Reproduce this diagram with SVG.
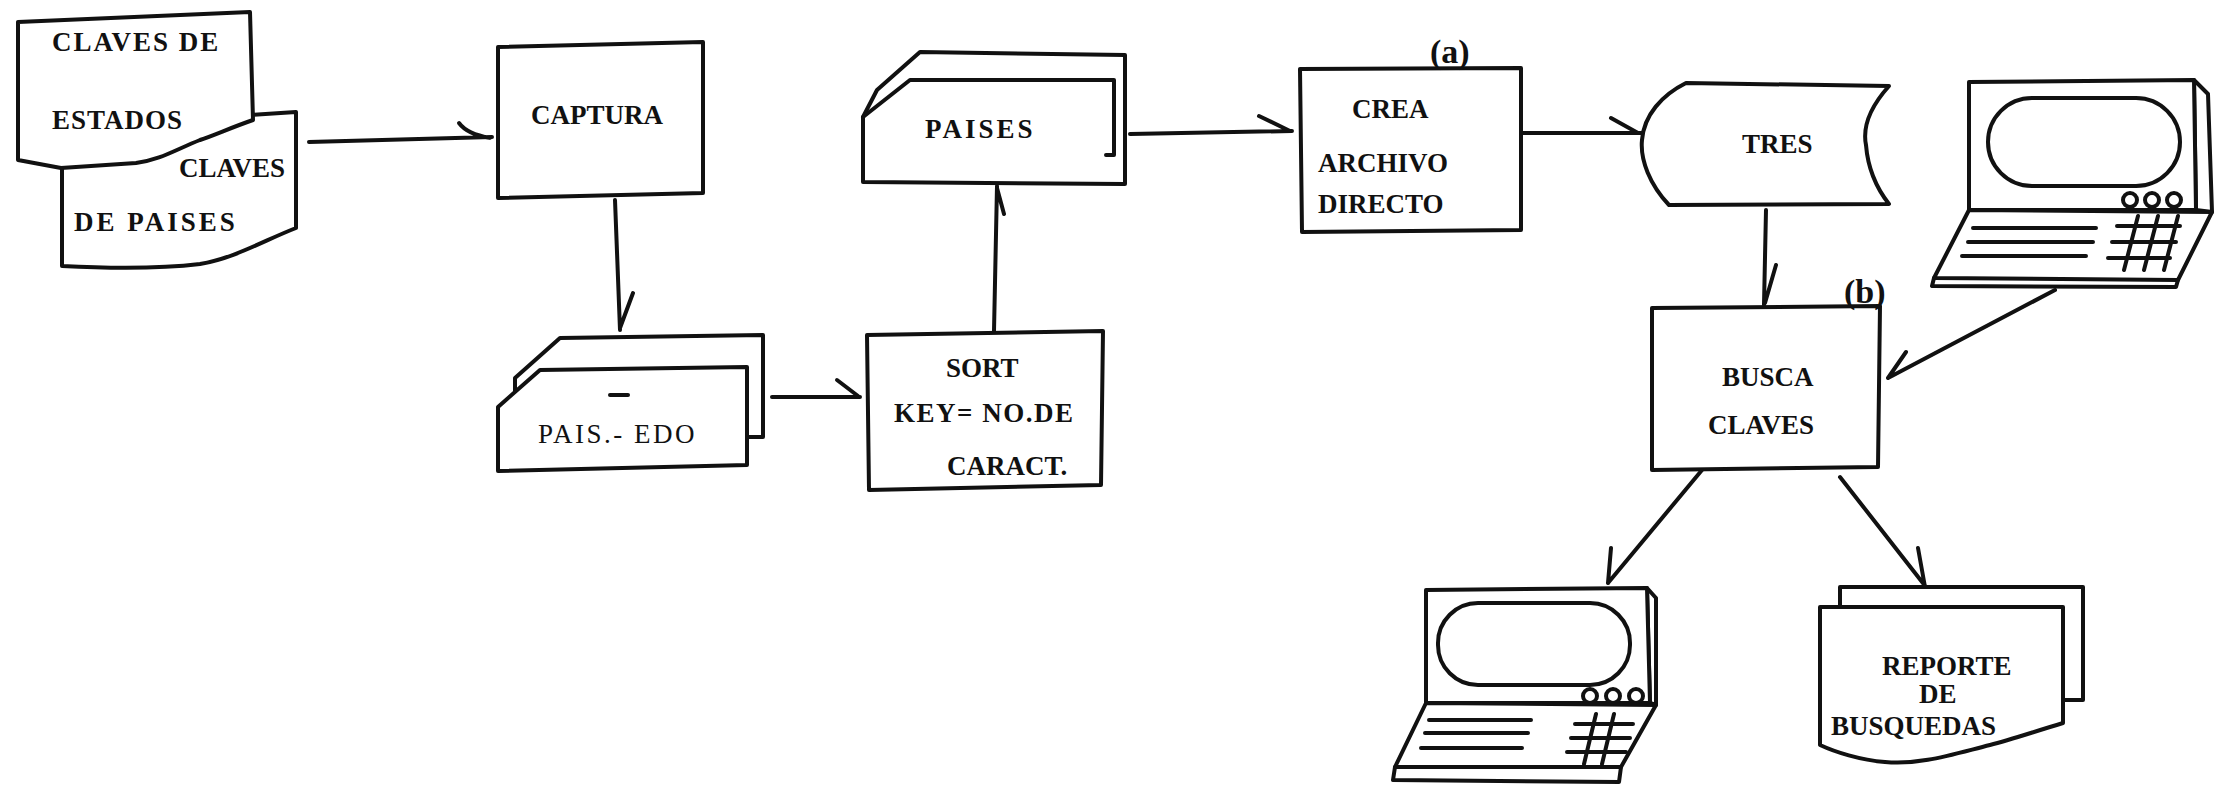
<svg xmlns="http://www.w3.org/2000/svg" width="2218" height="791" viewBox="0 0 2218 791">
<style>
.s{fill:none;stroke:#111;stroke-width:4;stroke-linejoin:round;stroke-linecap:round}
.f{fill:#fff;stroke:#111;stroke-width:4;stroke-linejoin:round;stroke-linecap:round}
.t{font-family:"Liberation Serif","DejaVu Serif",serif;font-weight:bold;font-size:27px;fill:#111}
.r{font-weight:normal}
.p{font-size:34px}
</style>
<rect width="2218" height="791" fill="#fff"/>
<g id="claves">
<path class="f" d="M62,166 L62,112 L250,115 L296,112 L296,228 C265,240 235,258 200,264 C150,270 100,268 62,266 Z"/>
<path class="f" d="M18,22 L250,12 L253,120 C230,128 215,135 200,140 C175,150 160,160 136,163 L61,168 L18,160 Z"/>
<text class="t" x="52" y="51" letter-spacing="2">CLAVES DE</text>
<text class="t" x="52" y="129" letter-spacing="1">ESTADOS</text>
<text class="t" x="179" y="177">CLAVES</text>
<text class="t" x="74" y="231" letter-spacing="3">DE PAISES</text>
</g>
<g id="captura">
<path class="f" d="M498,47 L703,42 L703,193 L498,198 Z"/>
<text class="t" x="531" y="124">CAPTURA</text>
</g>
<g id="pais-edo">
<path class="f" d="M515,392 L515,378 L560,338 L763,335 L763,437 L748,437"/>
<path class="f" d="M498,407 L540,370 L747,367 L747,465 L498,471 Z"/>
<path class="s" d="M610,395 L628,395"/>
<text class="t r" x="538" y="443" letter-spacing="2.5" font-size="28">PAIS.- EDO</text>
</g>
<g id="sort">
<path class="f" d="M867,335 L1103,331 L1101,485 L869,490 Z"/>
<text class="t" x="946" y="377">SORT</text>
<text class="t" x="894" y="422" letter-spacing="1.5">KEY= NO.DE</text>
<text class="t" x="947" y="475">CARACT.</text>
</g>
<g id="paises">
<path class="f" d="M877,90 L920,52 L1125,55 L1125,184 L863,182 L863,117 Z"/>
<path class="s" d="M863,117 L910,80 L1114,80 L1114,155 L1106,155"/>
<text class="t" x="925" y="138" letter-spacing="3">PAISES</text>
</g>
<g id="crea">
<path class="f" d="M1300,69 L1521,68 L1521,230 L1302,232 Z"/>
<text class="t p" x="1430" y="63">(a)</text>
<text class="t" x="1352" y="118">CREA</text>
<text class="t" x="1318" y="172">ARCHIVO</text>
<text class="t" x="1318" y="213">DIRECTO</text>
</g>
<g id="tres">
<path class="f" d="M1686,83 L1889,86 C1872,105 1862,125 1866,145 C1868,170 1878,190 1889,204 L1669,205 C1650,185 1640,160 1642,140 C1644,115 1662,95 1686,83 Z"/>
<text class="t" x="1742" y="153">TRES</text>
</g>
<g id="terminal-1">
<path class="f" d="M2194,80 L2208,94 L2212,212 L2196,210 Z"/>
<path class="f" d="M1969,82 L2194,80 L2196,210 L1969,210 Z"/>
<rect class="s" x="1988" y="98" width="192" height="88" rx="44"/>
<circle class="s" cx="2130" cy="200" r="7"/>
<circle class="s" cx="2152" cy="200" r="7"/>
<circle class="s" cx="2174" cy="200" r="7"/>
<path class="f" d="M1969,210 L2212,212 L2178,280 L1934,278 Z"/>
<path class="s" d="M1934,278 L1932,286 L2176,287 L2178,280"/>
<path class="s" d="M1973,228 L2096,228 M1968,242 L2093,242 M1962,256 L2086,256"/>
<path class="s" d="M2117,226 L2180,226 M2112,242 L2176,242 M2108,258 L2170,258 M2138,216 L2124,270 M2158,216 L2144,270 M2178,216 L2164,270"/>
</g>
<g id="busca">
<path class="f" d="M1652,308 L1880,306 L1878,467 L1652,470 Z"/>
<text class="t p" x="1844" y="303">(b)</text>
<text class="t" x="1722" y="386" font-size="25">BUSCA</text>
<text class="t" x="1708" y="434" font-size="25">CLAVES</text>
</g>
<g id="terminal-2">
<path class="f" d="M1647,588 L1656,598 L1656,705 L1650,703 Z"/>
<path class="f" d="M1426,590 L1647,588 L1650,703 L1426,703 Z"/>
<rect class="s" x="1438" y="603" width="192" height="82" rx="40"/>
<circle class="s" cx="1590" cy="696" r="7"/>
<circle class="s" cx="1613" cy="696" r="7"/>
<circle class="s" cx="1636" cy="696" r="7"/>
<path class="f" d="M1426,703 L1656,705 L1621,767 L1395,767 Z"/>
<path class="s" d="M1395,767 L1393,780 L1619,782 L1621,767"/>
<path class="s" d="M1429,720 L1531,720 M1425,733 L1528,733 M1421,748 L1522,748"/>
<path class="s" d="M1575,724 L1633,724 M1571,738 L1630,738 M1567,752 L1626,752 M1596,714 L1584,764 M1614,714 L1602,764"/>
</g>
<g id="reporte">
<path class="f" d="M1840,607 L1840,587 L2083,587 L2083,700 L2063,700"/>
<path class="f" d="M1820,607 L2063,607 L2063,723 C2030,733 2010,740 1990,745 C1950,755 1920,765 1885,762 C1860,760 1835,752 1820,745 Z"/>
<text class="t" x="1882" y="675">REPORTE</text>
<text class="t" x="1919" y="703">DE</text>
<text class="t" x="1831" y="735">BUSQUEDAS</text>
</g>
<g id="connectors">
<path class="s" d="M309,142 L492,137 M459,123 Q467,134 490,138"/>
<path class="s" d="M615,200 L620,330 M633,293 L620,328"/>
<path class="s" d="M772,397 L860,397 M837,380 L858,396"/>
<path class="s" d="M994,331 L997,186 M1004,214 L997,188"/>
<path class="s" d="M1130,134 L1292,131 M1259,116 L1290,131"/>
<path class="s" d="M1523,133 L1642,133 M1611,118 L1638,133"/>
<path class="s" d="M1766,210 L1764,305 M1776,265 L1765,303"/>
<path class="s" d="M2055,290 L1888,378 M1906,352 L1888,378"/>
<path class="s" d="M1702,470 L1608,583 M1611,548 L1608,583"/>
<path class="s" d="M1840,477 L1926,587 M1918,548 L1925,587"/>
</g>
</svg>
